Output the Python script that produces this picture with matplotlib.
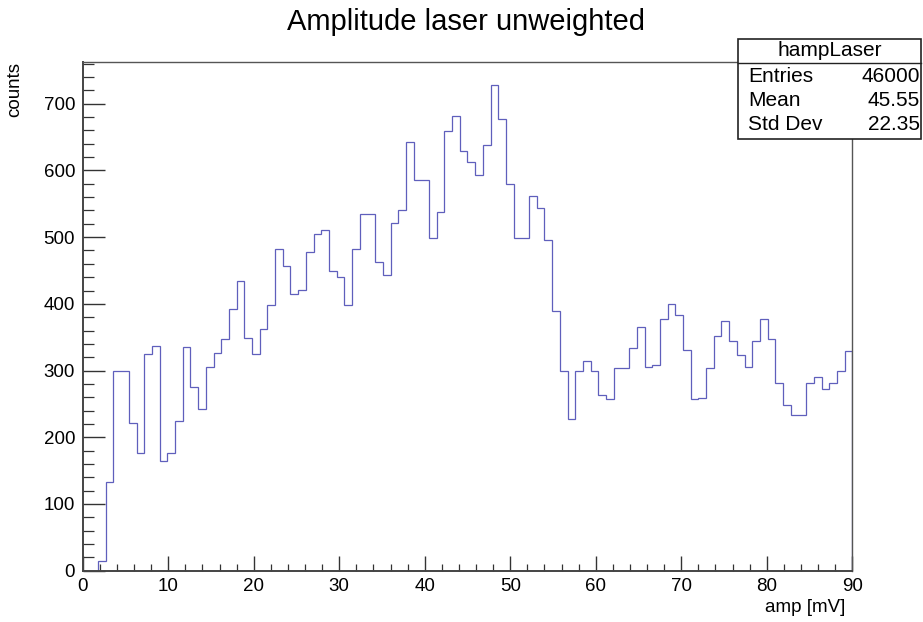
import numpy as np
import matplotlib
matplotlib.use("Agg")
import matplotlib.pyplot as plt
from matplotlib.patches import Rectangle
from matplotlib.ticker import MultipleLocator

plt.rcParams['font.family'] = ['Liberation Sans', 'DejaVu Sans']

# histogram hampLaser: 100 bins from 0 to 90 mV
x_min, x_max, n_bins = 0.0, 90.0, 100
counts = [
    0, 0, 15, 133, 300, 300, 222, 177, 325, 337,
    165, 177, 225, 335, 276, 243, 306, 326, 348, 393,
    435, 349, 325, 363, 398, 482, 457, 415, 421, 478,
    504, 511, 450, 440, 399, 482, 535, 535, 462, 444,
    521, 541, 643, 585, 586, 498, 537, 659, 682, 629,
    613, 593, 638, 728, 677, 579, 499, 499, 562, 544,
    495, 389, 300, 228, 300, 314, 300, 263, 257, 304,
    304, 334, 365, 306, 309, 377, 400, 384, 331, 257,
    259, 304, 352, 374, 344, 324, 305, 344, 378, 348,
    281, 249, 234, 234, 281, 291, 272, 281, 299, 330,
]
stat_names = ["Entries", "Mean", "Std Dev"]
stat_values = ["46000", "45.55", "22.35"]

edges = np.linspace(x_min, x_max, n_bins + 1)

W, H = 923, 622
fig = plt.figure(figsize=(W / 100, H / 100), dpi=100)
ax = fig.add_axes([82.7 / W, 1 - 570.7 / H, (852.3 - 82.7) / W, (570.7 - 61.7) / H])

ax.stairs(counts, edges, color="#5f5fbc", lw=0.9)

ax.set_xlim(x_min, x_max)
ax.set_ylim(0, 763)
ax.xaxis.set_major_locator(MultipleLocator(10))
ax.xaxis.set_minor_locator(MultipleLocator(2))
ax.yaxis.set_major_locator(MultipleLocator(100))
ax.yaxis.set_minor_locator(MultipleLocator(20))

ax.tick_params(axis="x", which="major", direction="in", length=10.8, width=1.0,
               color="#333333", labelsize=13.5, pad=5)
ax.tick_params(axis="x", which="minor", direction="in", length=5.4, width=0.9, color="#333333")
ax.tick_params(axis="y", which="major", direction="in", length=15.8, width=1.0,
               color="#333333", labelsize=13.5, pad=5.5)
ax.tick_params(axis="y", which="minor", direction="in", length=8, width=0.9, color="#333333")

for side in ["left", "bottom"]:
    ax.spines[side].set_linewidth(1.4)
    ax.spines[side].set_color("#444444")
for side in ["top", "right"]:
    ax.spines[side].set_linewidth(1.0)
    ax.spines[side].set_color("#555555")

# title and axis titles, ROOT style placement
fig.text(466 / W, 1 - 22 / H, "Amplitude laser unweighted", ha="center", va="center", fontsize=21)
fig.text(15 / W, 1 - 61.7 / H, "counts", rotation=90, ha="center", va="top", fontsize=13.5)
fig.text(845 / W, 1 - 607 / H, "amp [mV]", ha="right", va="center", fontsize=13.5)

# stats box
bx0, bx1, by0, by1 = 738, 921, 39, 139
fig.patches.append(Rectangle((bx0 / W, 1 - by1 / H), (bx1 - bx0) / W, (by1 - by0) / H,
                             transform=fig.transFigure, facecolor="white",
                             edgecolor="#222222", lw=1.2, zorder=5))
fig.add_artist(plt.Line2D([bx0 / W, bx1 / W], [1 - 63 / H, 1 - 63 / H],
                          transform=fig.transFigure, color="#222222", lw=1.0, zorder=6))
fig.text((bx0 + bx1) / 2 / W, 1 - 51 / H, "hampLaser", ha="center", va="center",
         fontsize=15, zorder=7)
for i, (name, val) in enumerate(zip(stat_names, stat_values)):
    yy = 1 - (77 + 23.5 * i) / H
    fig.text(748 / W, yy, name, ha="left", va="center", fontsize=15, zorder=7)
    fig.text(920 / W, yy, val, ha="right", va="center", fontsize=15, zorder=7)

fig.savefig("out.png", dpi=100)
